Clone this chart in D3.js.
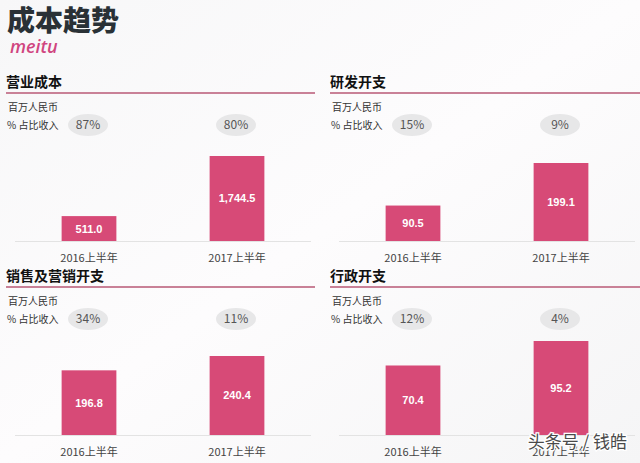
<!DOCTYPE html>
<html>
<head>
<meta charset="utf-8">
<script src="https://cdn.jsdelivr.net/npm/d3@7"></script>
<style>
  body { margin: 0; background: #fff; }
  svg { display: block; font-family: "Noto Sans CJK SC", "Noto Sans", sans-serif; }
</style>
</head>
<body>
<div id="chart"></div>
<script>
// chart values
const panelTitles = ['营业成本', '研发开支', '销售及营销开支', '行政开支']
const periods = ['2016上半年', '2017上半年']
const costValues = [[511.0, 1744.5], [90.5, 199.1], [196.8, 240.4], [70.4, 95.2]]
const revenueShares = ['87%', '80%', '15%', '9%', '34%', '11%', '12%', '4%']
const unitLabel = '百万人民币'
const shareLabel = '% 占比收入'

let width = 640,
  height = 463

let svg = d3.select('#chart')
  .append('svg')
  .attr('width', width)
  .attr('height', height)

let defs = svg.append('defs')
let bg = defs.append('linearGradient').attr('id', 'bg')
  .attr('x1', 0).attr('y1', 0).attr('x2', 1).attr('y2', 1)
bg.append('stop').attr('offset', '0%').attr('stop-color', '#f7f7f8')
bg.append('stop').attr('offset', '50%').attr('stop-color', '#fdfcfd')
bg.append('stop').attr('offset', '100%').attr('stop-color', '#f5f5f6')

svg.append('rect').attr('width', width).attr('height', height).attr('fill', 'url(#bg)')

svg.append('text')
  .attr('x', 7)
  .attr('y', 31)
  .style('font-size', '28px')
  .style('font-weight', 900)
  .style('fill', '#2a3136')
  .text('成本趋势')

svg.append('text')
  .attr('x', 10)
  .attr('y', 53)
  .style('font-family', '"Open Sans", "DejaVu Sans", sans-serif')
  .style('font-size', '18px')
  .style('font-style', 'italic')
  .style('font-weight', 600)
  .style('fill', '#d0457f')
  .text('meitu')

// per panel layout: origin and pixel height of the tallest bar
let panels = [
  { x: 0, y: 0, maxH: 85 },
  { x: 324, y: 0, maxH: 78 },
  { x: 0, y: 194, maxH: 79 },
  { x: 324, y: 194, maxH: 94 }
]

let baseY = 241

let x = d3.scaleBand()
  .domain(periods)
  .range([15, 311])
  .paddingInner(0.63)
  .paddingOuter(0.315)

panels.forEach((p, i) => {
  let g = svg.append('g').attr('transform', `translate(${p.x},${p.y})`)
  let vals = costValues[i]

  let y = d3.scaleLinear()
    .domain([0, d3.max(vals)])
    .range([baseY, baseY - p.maxH])

  g.append('text')
    .attr('x', 6)
    .attr('y', 87)
    .style('font-size', '14px')
    .style('font-weight', 700)
    .style('fill', '#111')
    .text(panelTitles[i])

  g.append('line')
    .attr('x1', 6).attr('x2', i % 2 ? 316 : 315)
    .attr('y1', 93).attr('y2', 93)
    .attr('stroke', '#c98197')
    .attr('stroke-width', 2)

  g.append('text')
    .attr('x', 8)
    .attr('y', 111)
    .style('font-size', '10px')
    .style('fill', '#333')
    .text(unitLabel)

  g.append('text')
    .attr('x', 7)
    .attr('y', 129)
    .style('font-size', '10px')
    .style('fill', '#333')
    .text(shareLabel)

  let shares = g.selectAll('.share')
    .data(periods)
    .enter()
    .append('g')
    .attr('class', 'share')
    .attr('transform', d => `translate(${x(d) + x.bandwidth() / 2 - 1},125)`)

  shares.append('ellipse')
    .attr('rx', 20)
    .attr('ry', 11)
    .attr('fill', '#e7e7e8')

  shares.append('text')
    .attr('text-anchor', 'middle')
    .attr('dy', '0.36em')
    .style('font-size', '12px')
    .style('fill', '#555')
    .text((d, j) => revenueShares[i * 2 + j])

  g.append('line')
    .attr('x1', 15).attr('x2', 311)
    .attr('y1', baseY + 0.5).attr('y2', baseY + 0.5)
    .attr('stroke', '#e3e3e3')

  g.selectAll('.bar')
    .data(vals)
    .enter()
    .append('rect')
    .attr('class', 'bar')
    .attr('x', (d, j) => x(periods[j]))
    .attr('y', d => y(d))
    .attr('width', x.bandwidth())
    .attr('height', d => baseY - y(d))
    .attr('fill', '#d74a77')

  g.selectAll('.val')
    .data(vals)
    .enter()
    .append('text')
    .attr('class', 'val')
    .attr('x', (d, j) => x(periods[j]) + x.bandwidth() / 2)
    .attr('y', d => (y(d) + baseY) / 2)
    .attr('dy', '0.36em')
    .attr('text-anchor', 'middle')
    .style('font-family', 'Arial, "Liberation Sans", sans-serif')
    .style('font-size', '11px')
    .style('font-weight', 700)
    .style('fill', '#fff')
    .text(d => d3.format(',.1f')(d))

  g.selectAll('.period')
    .data(periods)
    .enter()
    .append('text')
    .attr('class', 'period')
    .attr('x', d => x(d) + x.bandwidth() / 2)
    .attr('y', 262)
    .attr('text-anchor', 'middle')
    .style('font-size', '11px')
    .style('fill', '#444')
    .text(d => d)
})

// watermark sits over the last period label, as in the source image
svg.append('text')
  .attr('x', 627)
  .attr('y', 448)
  .attr('text-anchor', 'end')
  .style('font-size', '17px')
  .style('fill', '#4a4a4a')
  .style('stroke', '#fff')
  .style('stroke-width', 2.5)
  .style('paint-order', 'stroke')
  .text('头条号 / 钱皓')
</script>
</body>
</html>
